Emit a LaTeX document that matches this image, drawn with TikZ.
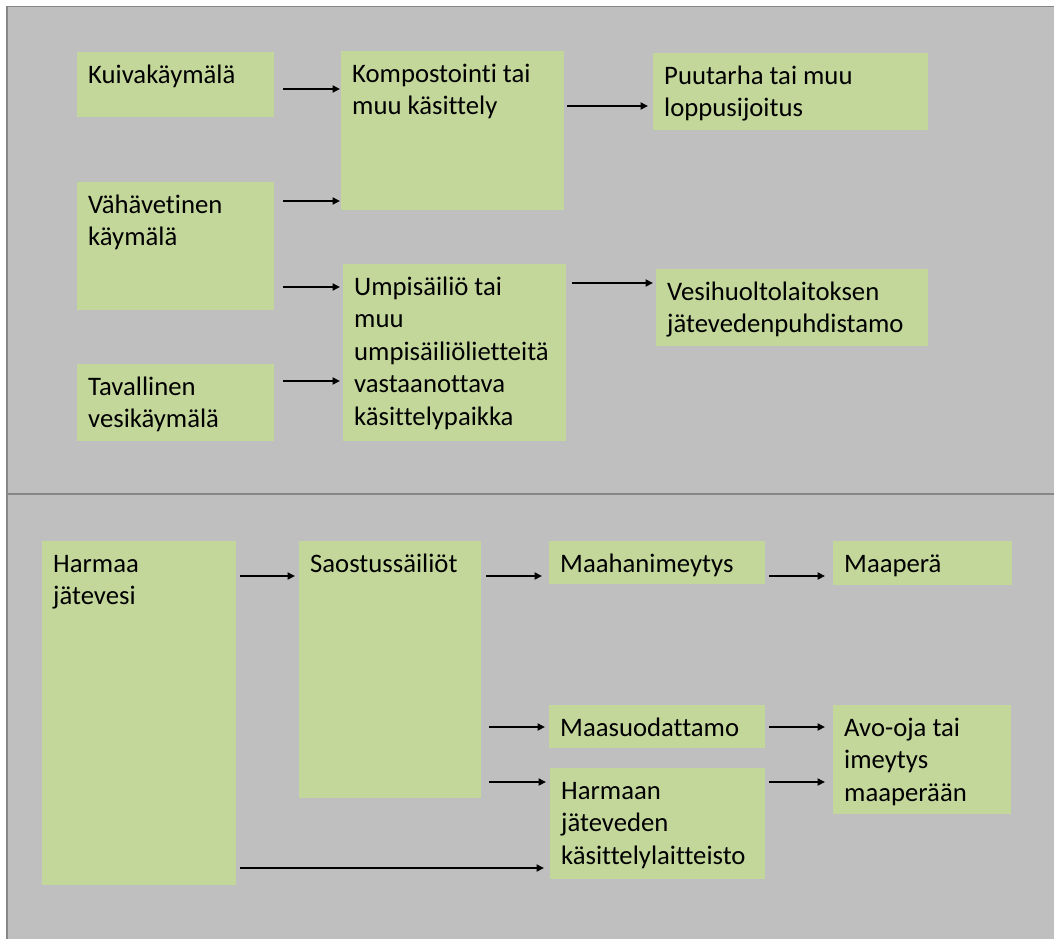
\documentclass[tikz,border=0pt]{standalone}
\usepackage{fontspec}
\setmainfont{Carlito}[Ligatures=CommonOff]
\usetikzlibrary{arrows.meta}
\definecolor{boxgreen}{HTML}{C4D79B}
\definecolor{bggray}{HTML}{BFBFBF}
\definecolor{linegray}{HTML}{878787}
\newcommand{\bxt}[3]{\parbox[t][#2][t]{#1}{\leftskip=11pt\vspace*{8.25pt}\strut #3}}
\tikzset{
  gbox/.style={fill=boxgreen, draw=none, inner sep=0pt, anchor=north west, align=left,
    font=\fontsize{26.7pt}{32.5pt}\selectfont},
  arr/.style={line width=2pt, -{Triangle[length=7.5pt,width=7pt]}},
}
\begin{document}
\begin{tikzpicture}[x=1pt,y=-1pt]
\useasboundingbox (0,0) rectangle (1054,939);
\fill[white] (0,0) rectangle (1054,939);
\fill[bggray] (7,6.5) rectangle (1054,939);
\draw[linegray, line width=1.5pt] (1054,6.5) -- (7,6.5) -- (7,939);
\draw[linegray, line width=2pt] (7,494) -- (1054,494);

% top section
\node[gbox] (kuiva) at (77,52)  {\bxt{197pt}{65pt}{Kuivakäymälä}};
\node[gbox] (vaha)  at (77,182) {\bxt{197pt}{128pt}{Vähävetinen\\käymälä}};
\node[gbox] (tav)   at (77,364) {\bxt{197pt}{77pt}{Tavallinen\\vesikäymälä}};
\node[gbox] (komp)  at (341,51) {\bxt{223pt}{159pt}{Kompostointi tai\\muu käsittely}};
\node[gbox] (umpi)  at (343,264) {\bxt{223pt}{177pt}{Umpisäiliö tai\\muu\\umpisäiliölietteitä\\vastaanottava\\käsittelypaikka}};
\node[gbox] (puu)   at (653,53) {\bxt{275pt}{77pt}{Puutarha tai muu\\loppusijoitus}};
\node[gbox] (vesi)  at (656,269) {\bxt{272pt}{77pt}{Vesihuoltolaitoksen\\jätevedenpuhdistamo}};

% bottom section
\node[gbox] (harmaa) at (42,541)  {\bxt{194pt}{344pt}{Harmaa\\jätevesi}};
\node[gbox] (saos)   at (299,541) {\bxt{182pt}{257pt}{Saostussäiliöt}};
\node[gbox] (maahan) at (549,541) {\bxt{216pt}{43pt}{Maahanimeytys}};
\node[gbox] (maape)  at (833,541) {\bxt{179pt}{44pt}{Maaperä}};
\node[gbox] (maasuo) at (549,705) {\bxt{216pt}{43pt}{Maasuodattamo}};
\node[gbox] (harmk)  at (550,768) {\bxt{215pt}{111pt}{Harmaan\\jäteveden\\käsittelylaitteisto}};
\node[gbox] (avo)    at (833,705) {\bxt{178pt}{109pt}{Avo-oja tai\\imeytys\\maaperään}};

% arrows top
\draw[arr] ([xshift=9pt]kuiva.east |- 0,89) -- ([xshift=-1pt]komp.west |- 0,89);
\draw[arr] ([xshift=9pt]vaha.east |- 0,201) -- ([xshift=-1pt]komp.west |- 0,201);
\draw[arr] ([xshift=9pt]vaha.east |- 0,287) -- ([xshift=-3pt]umpi.west |- 0,287);
\draw[arr] ([xshift=9pt]tav.east |- 0,381) -- ([xshift=-3pt]umpi.west |- 0,381);
\draw[arr] ([xshift=3pt]komp.east |- 0,106) -- ([xshift=-5pt]puu.west |- 0,106);
\draw[arr] ([xshift=6pt]umpi.east |- 0,283) -- ([xshift=-3pt]vesi.west |- 0,283);

% arrows bottom
\draw[arr] ([xshift=4pt]harmaa.east |- 0,576) -- ([xshift=-4pt]saos.west |- 0,576);
\draw[arr] ([xshift=5pt]saos.east |- 0,576) -- ([xshift=-7pt]maahan.west |- 0,576);
\draw[arr] ([xshift=4pt]maahan.east |- 0,576) -- ([xshift=-8pt]maape.west |- 0,576);
\draw[arr] ([xshift=8pt]saos.east |- 0,727) -- ([xshift=-4pt]maasuo.west |- 0,727);
\draw[arr] ([xshift=8pt]saos.east |- 0,782) -- ([xshift=-4pt]harmk.west |- 0,782);
\draw[arr] ([xshift=4pt]maasuo.east |- 0,727) -- ([xshift=-8pt]avo.west |- 0,727);
\draw[arr] ([xshift=4pt]harmk.east |- 0,782) -- ([xshift=-8pt]avo.west |- 0,782);
\draw[arr] ([xshift=4pt]harmaa.east |- 0,868) -- ([xshift=-6pt]harmk.west |- 0,868);
\end{tikzpicture}
\end{document}
